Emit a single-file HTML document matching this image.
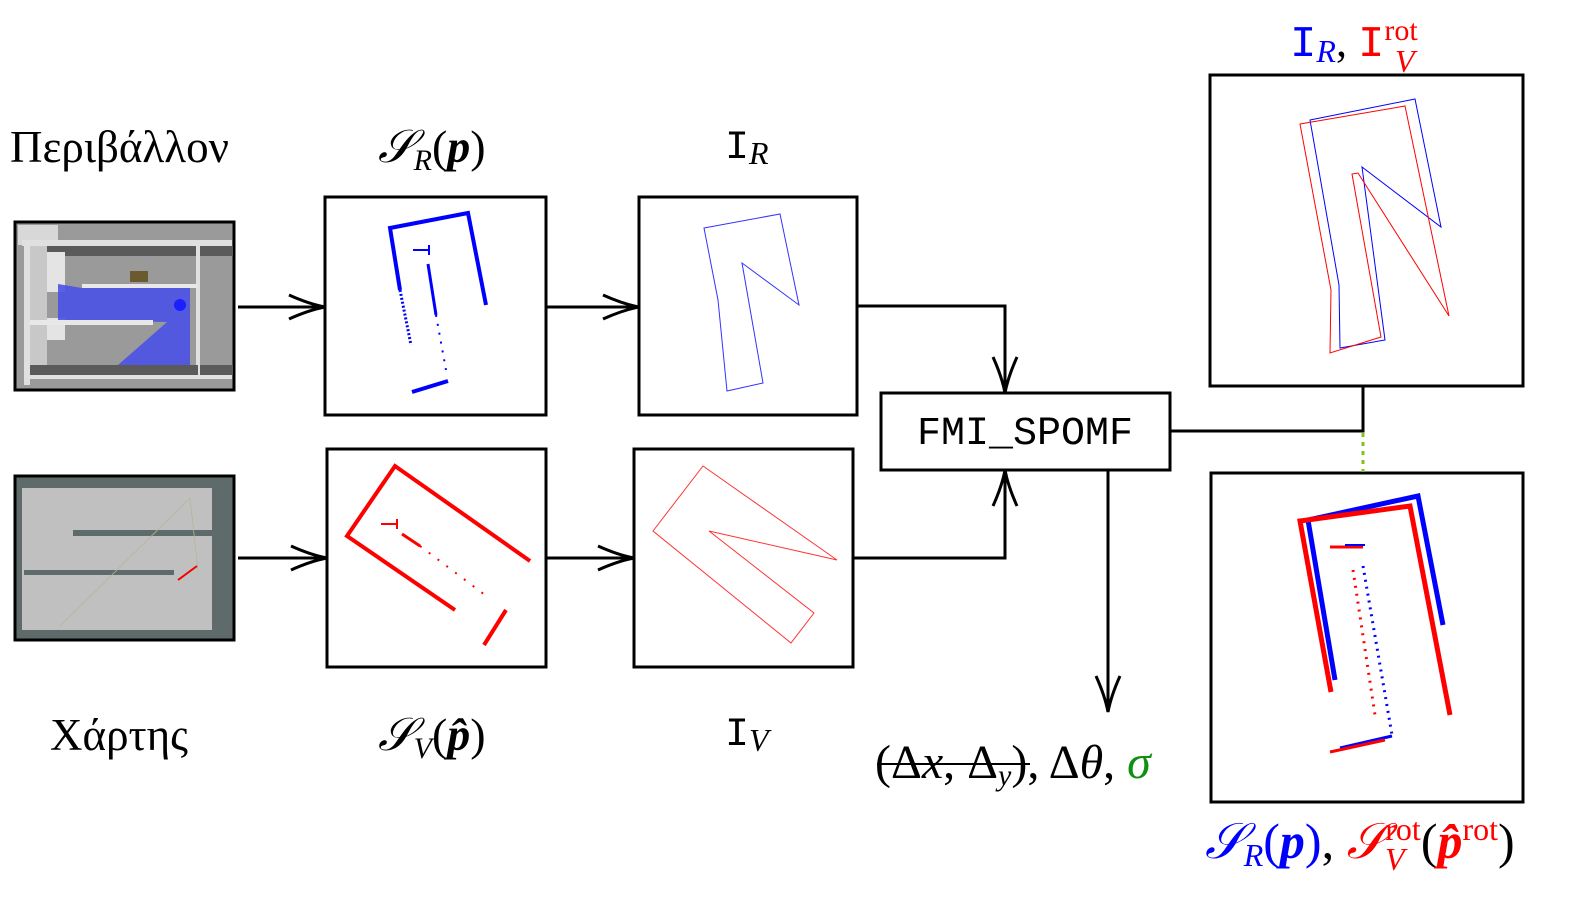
<!DOCTYPE html>
<html><head><meta charset="utf-8"><style>
html,body{margin:0;padding:0;background:#fff;width:1585px;height:897px;overflow:hidden;}
svg{display:block;}
text{font-family:"Liberation Serif","DejaVu Serif",serif;}
.mono{font-family:"Liberation Mono","DejaVu Sans Mono",monospace;}
</style></head><body>
<svg width="1585" height="897" viewBox="0 0 1585 897" xmlns="http://www.w3.org/2000/svg">
<defs>
<marker id="ah" viewBox="0 0 40 30" refX="38" refY="15" markerWidth="40" markerHeight="30" markerUnits="userSpaceOnUse" orient="auto">
<path d="M2,3 Q22,12 38,15 Q22,18 2,27" fill="none" stroke="#000" stroke-width="3"/>
</marker>
</defs>

<!-- environment image -->
<rect x="15" y="222" width="219" height="168" fill="#9a9a9a" stroke="#000" stroke-width="3"/>
<rect x="18" y="225" width="40" height="20" fill="#d8d8d8"/>
<rect x="22" y="240" width="210" height="6" fill="#e0e0e0"/>
<rect x="24" y="245" width="6" height="140" fill="#e0e0e0"/>
<rect x="30" y="246" width="168" height="10" fill="#5a5a5a"/>
<rect x="30" y="246" width="17" height="130" fill="#c8c8c8"/>
<rect x="47" y="252" width="18" height="40" fill="#e4e4e4"/>
<rect x="47" y="318" width="18" height="22" fill="#e4e4e4"/>
<rect x="196" y="240" width="4" height="135" fill="#e0e0e0"/>
<rect x="200" y="246" width="33" height="10" fill="#5a5a5a"/>
<rect x="82" y="284" width="115" height="4" fill="#e8e8e8"/>
<rect x="130" y="271" width="18" height="11" fill="#6b5a30"/>
<polygon points="58,284 82,288 190,288 190,365 118,365 167,322 58,320" fill="#4a52e6" opacity="0.9"/>
<circle cx="180" cy="305" r="6" fill="#1a20ff"/>
<rect x="30" y="320" width="123" height="5" fill="#e8e8e8"/>
<rect x="30" y="365" width="168" height="10" fill="#5a5a5a"/>
<rect x="28" y="375" width="204" height="4" fill="#e0e0e0"/>
<rect x="200" y="365" width="33" height="10" fill="#5a5a5a"/>

<!-- map image -->
<rect x="15" y="476" width="219" height="164" fill="#5e6b6a" stroke="#000" stroke-width="3"/>
<rect x="22" y="488" width="190" height="142" fill="#c0c0c0"/>
<rect x="73" y="530" width="152" height="6" fill="#5e6b6a"/>
<rect x="24" y="570" width="150" height="5" fill="#5e6b6a"/>
<line x1="60" y1="626" x2="190" y2="498" stroke="#b5b59a" stroke-width="0.8"/>
<line x1="190" y1="498" x2="198" y2="570" stroke="#b5b59a" stroke-width="0.8"/>
<line x1="178" y1="580" x2="197" y2="566" stroke="#e00" stroke-width="2"/>

<!-- boxes -->
<g fill="none" stroke="#000" stroke-width="3">
<rect x="325" y="197" width="221" height="218"/>
<rect x="327" y="449" width="219" height="218"/>
<rect x="639" y="197" width="218" height="218"/>
<rect x="634" y="449" width="219" height="218"/>
<rect x="881" y="393" width="289" height="77" fill="#fff"/>
<rect x="1210" y="75" width="313" height="311"/>
<rect x="1211" y="473" width="312" height="329"/>
</g>

<!-- connectors -->
<g fill="none" stroke="#000" stroke-width="3">
<line x1="238" y1="307" x2="325" y2="307" marker-end="url(#ah)"/>
<line x1="238" y1="558" x2="327" y2="558" marker-end="url(#ah)"/>
<line x1="546" y1="307" x2="639" y2="307" marker-end="url(#ah)"/>
<line x1="546" y1="558" x2="634" y2="558" marker-end="url(#ah)"/>
<polyline points="857,306 1005,306 1005,393" marker-end="url(#ah)"/>
<polyline points="853,558 1005,558 1005,470" marker-end="url(#ah)"/>
<line x1="1108" y1="470" x2="1108" y2="712" marker-end="url(#ah)"/>
<polyline points="1170,431 1363,431 1363,386"/>
</g>
<line x1="1363" y1="433" x2="1363" y2="472" stroke="#7fc31c" stroke-width="3" stroke-dasharray="4,5"/>

<text x="917" y="444" class="mono" font-size="40" fill="#000">FMI_SPOMF</text>

<!-- S_R scan -->
<g stroke="#0000ff" fill="none">
<polyline points="400,290 390,228 468,213 486,305" stroke-width="4"/>
<line x1="400" y1="290" x2="411" y2="345" stroke-width="3" stroke-dasharray="2,2"/>
<line x1="428" y1="264" x2="436" y2="315" stroke-width="3"/>
<line x1="436" y1="315" x2="446" y2="370" stroke-width="2" stroke-dasharray="2,7"/>
<line x1="412" y1="392" x2="448" y2="381" stroke-width="4"/>
<line x1="413" y1="250" x2="429" y2="250" stroke-width="2"/>
<line x1="429" y1="245" x2="429" y2="255" stroke-width="2"/>
</g>
<!-- S_V scan -->
<g stroke="#ff0000" fill="none">
<polyline points="455,610 347,536 395,466 530,561" stroke-width="4"/>
<line x1="402" y1="534" x2="420" y2="546" stroke-width="3"/>
<line x1="420" y1="546" x2="485" y2="595" stroke-width="2" stroke-dasharray="2,9"/>
<line x1="484" y1="645" x2="506" y2="610" stroke-width="4"/>
<line x1="381" y1="524" x2="397" y2="524" stroke-width="2"/>
<line x1="397" y1="519" x2="397" y2="529" stroke-width="2"/>
</g>
<!-- I_R / I_V -->
<polygon points="704,228 780,214 799,305 742,263 763,383 727,391 718,300" fill="none" stroke="#3333ff" stroke-width="1"/>
<polygon points="653,531 703,466 837,560 709,531 814,613 791,643" fill="none" stroke="#ff3333" stroke-width="1"/>

<!-- top right overlay -->
<polygon points="1310,120 1415,99 1441,227 1362,167 1385,340 1340,348 1339,285" fill="none" stroke="#0000ff" stroke-width="1"/>
<polygon points="1300,124 1405,106 1449,316 1358,173 1352,174 1381,337 1330,353 1331,290" fill="none" stroke="#ff0000" stroke-width="1"/>

<!-- bottom right overlay -->
<g fill="none">
<polyline points="1335,680 1308,520 1418,496 1443,625" stroke="#0000ff" stroke-width="5"/>
<polyline points="1331,692 1300,521 1410,506 1450,715" stroke="#ff0000" stroke-width="5"/>
<line x1="1363" y1="566" x2="1392" y2="735" stroke="#0000ff" stroke-width="3" stroke-dasharray="2,5"/>
<line x1="1353" y1="570" x2="1375" y2="715" stroke="#ff0000" stroke-width="3" stroke-dasharray="2,6"/>
<line x1="1340" y1="748" x2="1392" y2="736" stroke="#0000ff" stroke-width="3"/>
<line x1="1330" y1="752" x2="1385" y2="740" stroke="#ff0000" stroke-width="3"/>
<line x1="1330" y1="547" x2="1363" y2="547" stroke="#ff0000" stroke-width="3"/>
<line x1="1345" y1="545" x2="1365" y2="545" stroke="#0000ff" stroke-width="2"/>
</g>

<!-- labels -->
<text x="10" y="162" font-size="45">Περιβάλλον</text>
<text x="50" y="750" font-size="45">Χάρτης</text>
<text x="378" y="162" font-size="46" font-style="italic">𝒮<tspan font-size="30" dy="8">R</tspan><tspan dy="-8" font-style="normal">(</tspan><tspan font-weight="bold">p</tspan><tspan font-style="normal">)</tspan></text>
<text x="378" y="750" font-size="46" font-style="italic">𝒮<tspan font-size="30" dy="8">V</tspan><tspan dy="-8" font-style="normal">(</tspan><tspan font-weight="bold">p̂</tspan><tspan font-style="normal">)</tspan></text>
<text x="725" y="158" font-size="40"><tspan class="mono">I</tspan><tspan font-size="32" font-style="italic" dy="6">R</tspan></text>
<text x="725" y="745" font-size="40"><tspan class="mono">I</tspan><tspan font-size="32" font-style="italic" dy="6">V</tspan></text>
<text x="875" y="778" font-size="48">(Δ<tspan font-style="italic">x</tspan>, Δ<tspan font-style="italic" font-size="30" dy="7">y</tspan><tspan dy="-7">), Δ</tspan><tspan font-style="italic">θ</tspan>, <tspan font-style="italic" fill="#109010">σ</tspan></text>
<line x1="877" y1="764" x2="1030" y2="764" stroke="#000" stroke-width="2"/>
<text x="1290" y="56" font-size="44" fill="#0000ff"><tspan class="mono">I</tspan><tspan font-size="32" font-style="italic" dy="6">R</tspan><tspan dy="-6" fill="#000">, </tspan><tspan class="mono" fill="#ff0000">I</tspan><tspan fill="#ff0000" font-size="30" dy="-16">rot</tspan></text>
<text x="1395" y="72" font-size="32" font-style="italic" fill="#ff0000">V</text>
<text x="1205" y="858" font-size="50" font-style="italic" fill="#0000ff">𝒮<tspan font-size="32" dy="8">R</tspan><tspan dy="-8" font-style="normal">(</tspan><tspan font-weight="bold">p</tspan><tspan font-style="normal">)</tspan><tspan fill="#000" font-style="normal">, </tspan><tspan fill="#ff0000">𝒮</tspan><tspan fill="#ff0000" font-style="normal" font-size="32" dy="-18">rot</tspan><tspan fill="#000" font-style="normal" dy="18">(</tspan><tspan fill="#ff0000" font-weight="bold">p̂</tspan><tspan fill="#ff0000" font-style="normal" font-size="32" dy="-18">rot</tspan><tspan fill="#000" font-style="normal" dy="18">)</tspan></text>
<text x="1385" y="870" font-size="32" font-style="italic" fill="#ff0000">V</text>
</svg>
</body></html>
